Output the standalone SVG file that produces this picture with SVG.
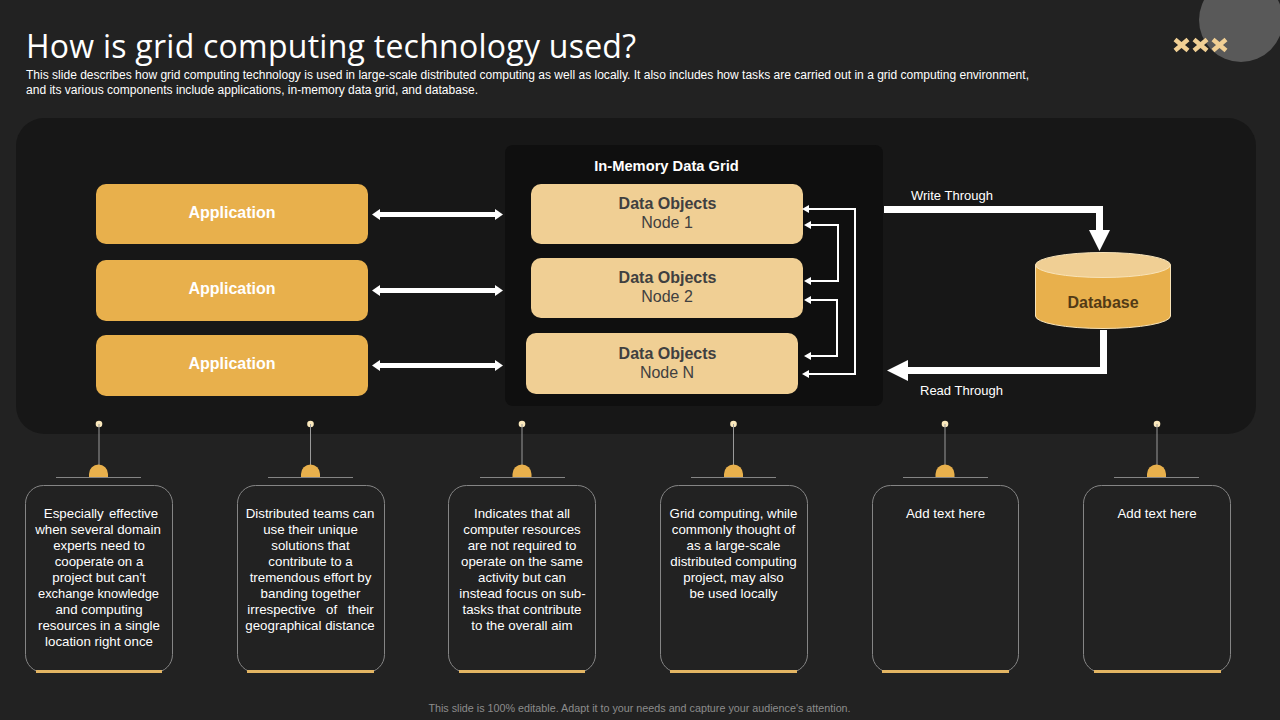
<svg xmlns="http://www.w3.org/2000/svg" width="1280" height="720" viewBox="0 0 1280 720">
<style>
text{font-family:"Liberation Sans",Arial,sans-serif}
.title{font-family:"Open Sans","Noto Sans",sans-serif;font-size:32px;fill:#fff}
.sub{font-size:12px;fill:#fff}
.app rect{fill:#e8b04c}
.app text{font-size:16px;font-weight:bold;fill:#fff;text-anchor:middle}
.obj rect{fill:#f0cf94}
.obj text{font-size:16px;fill:#404040;text-anchor:middle}
.obj .b{font-weight:bold}
.lbl{font-size:13px;fill:#fff}
.card rect.box{fill:none;stroke:#858585;stroke-width:1}
.card text{font-size:13.300px;fill:#fff;text-anchor:middle}
.card .stem{stroke:#9a9a9a;stroke-width:1}
.card .base{stroke:#858585;stroke-width:1}
.card .dome{fill:#e8b04c}
.card .dot{fill:#fbe9bd}
.card .bar{stroke:#e3b563;stroke-width:3}
.thick{fill:none;stroke:#fff;stroke-width:7}
.thin{fill:none;stroke:#fff;stroke-width:2}
.dbl{stroke:#fff;stroke-width:5;marker-start:url(#dh);marker-end:url(#dh)}
.hd{fill:#fff}
.x{stroke:#f0cf94;stroke-width:4.500;fill:none}
</style>
<defs>
<marker id="dh" markerUnits="userSpaceOnUse" markerWidth="8" markerHeight="11" refX="0" refY="5.500" orient="auto-start-reverse"><path d="M0 0L8 5.500L0 11z" fill="#fff"/></marker>
</defs>
<rect width="1280" height="720" fill="#222222"/>
<circle cx="1241" cy="20" r="42" fill="#595959"/>
<g id="deco">
<path class="x" d="M1175 39.500L1188 50.500M1188 39.500L1175 50.500M1194 39.500L1207 50.500M1207 39.500L1194 50.500M1213 39.500L1226 50.500M1226 39.500L1213 50.500"/>
</g>
<text class="title" x="26" y="58" textLength="610">How is grid computing technology used?</text>
<text class="sub" x="26" y="79" textLength="1003" lengthAdjust="spacingAndGlyphs">This slide describes how grid computing technology is used in large-scale distributed computing as well as locally. It also includes how tasks are carried out in a grid computing environment,</text>
<text class="sub" x="26" y="94" textLength="452" lengthAdjust="spacingAndGlyphs">and its various components include applications, in-memory data grid, and database.</text>
<rect x="16" y="118" width="1240" height="316" rx="28" fill="#171717"/>
<g id="grid-panel">
<rect x="505" y="145" width="378" height="261" rx="8" fill="#0f0f0f"/>
<text x="666.500" y="171" font-size="14.700" font-weight="bold" fill="#fff" text-anchor="middle">In-Memory Data Grid</text>
</g>
<g id="app1" class="app"><rect x="96" y="184" width="272" height="60" rx="10"/><text x="232" y="218">Application</text></g>
<g id="app2" class="app"><rect x="96" y="260" width="272" height="61" rx="10"/><text x="232" y="294">Application</text></g>
<g id="app3" class="app"><rect x="96" y="335" width="272" height="61" rx="10"/><text x="232" y="369">Application</text></g>
<g id="node1" class="obj"><rect x="531" y="184" width="272" height="60" rx="10"/><text class="b" x="667.500" y="209">Data Objects</text><text x="667" y="228">Node 1</text></g>
<g id="node2" class="obj"><rect x="531" y="258" width="272" height="60" rx="10"/><text class="b" x="667.500" y="283">Data Objects</text><text x="667" y="302">Node 2</text></g>
<g id="nodeN" class="obj"><rect x="526" y="333" width="272" height="61" rx="10"/><text class="b" x="667.500" y="359">Data Objects</text><text x="667" y="378">Node N</text></g>
<g id="database">
<path d="M1035.500 265V316A67.500 12.500 0 0 0 1170.500 316V265z" fill="#e8b04c" stroke="#f8e3b8" stroke-width="1"/>
<ellipse cx="1103" cy="265" rx="67.500" ry="12.500" fill="#f0cf94" stroke="#f8e3b8" stroke-width="1"/>
<text x="1103" y="308" font-size="16" font-weight="bold" fill="#523a16" text-anchor="middle">Database</text>
</g>
<g id="connectors">
<line class="dbl" x1="380" y1="214.500" x2="495" y2="214.500"/>
<line class="dbl" x1="380" y1="290.500" x2="495" y2="290.500"/>
<line class="dbl" x1="380" y1="365.500" x2="495" y2="365.500"/>
<path class="thin" d="M808 209H855V374H808"/>
<path class="thin" d="M808 225H838V281H808"/>
<path class="thin" d="M808 300H837V356H808"/>
<path class="hd" d="M802 209L809 205V213zM804 225L811 221V229zM804 281L811 277V285zM804 300L811 296V304zM804 356L811 352V360zM802 374L809 370V378z"/>
<path class="thick" d="M884 209.500H1099.500V232"/>
<path class="hd" d="M1089 230H1110L1099.500 251z"/>
<path class="thick" d="M1103.500 330V370.500H905"/>
<path class="hd" d="M887 370.500L908 360V381z"/>
</g>
<text class="lbl" x="911" y="200">Write Through</text>
<text class="lbl" x="920" y="395">Read Through</text>
<g id="card1" class="card"><circle class="dot" cx="99" cy="424" r="3.300"/><line class="stem" x1="99" y1="424" x2="99" y2="465"/><path class="dome" d="M89 477V474a9.500 9.500 0 0 1 19 0V477z"/><line class="base" x1="56" y1="477.500" x2="141" y2="477.500"/><rect class="box" x="25.500" y="485.500" width="147" height="187" rx="18"/><line class="bar" x1="36" y1="671.500" x2="162" y2="671.500"/>
<text x="99"><tspan x="101" y="518" word-spacing="1.500">Especially effective</tspan><tspan x="98" y="534">when several domain</tspan><tspan x="99" y="550">experts need to</tspan><tspan x="99" y="566">cooperate on a</tspan><tspan x="99" y="582">project but can't</tspan><tspan x="98.500" y="598" textLength="121" lengthAdjust="spacingAndGlyphs">exchange knowledge</tspan><tspan x="99" y="614">and computing</tspan><tspan x="99" y="630">resources in a single</tspan><tspan x="99" y="646">location right once</tspan></text></g>
<g id="card2" class="card"><circle class="dot" cx="310.500" cy="424" r="3.300"/><line class="stem" x1="310.500" y1="424" x2="310.500" y2="465"/><path class="dome" d="M301 477V474a9.500 9.500 0 0 1 19 0V477z"/><line class="base" x1="268" y1="477.500" x2="353" y2="477.500"/><rect class="box" x="237.500" y="485.500" width="147" height="187" rx="18"/><line class="bar" x1="247" y1="671.500" x2="374" y2="671.500"/>
<text x="311"><tspan x="310" y="518">Distributed teams can</tspan><tspan x="310.500" y="534">use their unique</tspan><tspan x="310.500" y="550">solutions that</tspan><tspan x="310.500" y="566">contribute to a</tspan><tspan x="310.500" y="582">tremendous effort by</tspan><tspan x="310.500" y="598">banding together</tspan><tspan x="310.500" y="614" word-spacing="7">irrespective of their</tspan><tspan x="310" y="630">geographical distance</tspan></text></g>
<g id="card3" class="card"><circle class="dot" cx="522" cy="424" r="3.300"/><line class="stem" x1="522" y1="424" x2="522" y2="465"/><path class="dome" d="M512.500 477V474a9.500 9.500 0 0 1 19 0V477z"/><line class="base" x1="480" y1="477.500" x2="565" y2="477.500"/><rect class="box" x="448.500" y="485.500" width="147" height="187" rx="18"/><line class="bar" x1="459" y1="671.500" x2="585" y2="671.500"/>
<text x="522"><tspan x="522" y="518">Indicates that all</tspan><tspan x="522" y="534">computer resources</tspan><tspan x="522" y="550">are not required to</tspan><tspan x="522" y="566">operate on the same</tspan><tspan x="522" y="582">activity but can</tspan><tspan x="522.500" y="598">instead focus on sub-</tspan><tspan x="522" y="614">tasks that contribute</tspan><tspan x="522" y="630">to the overall aim</tspan></text></g>
<g id="card4" class="card"><circle class="dot" cx="733.500" cy="424" r="3.300"/><line class="stem" x1="733.500" y1="424" x2="733.500" y2="465"/><path class="dome" d="M724 477V474a9.500 9.500 0 0 1 19 0V477z"/><line class="base" x1="691" y1="477.500" x2="776" y2="477.500"/><rect class="box" x="660.500" y="485.500" width="147" height="187" rx="18"/><line class="bar" x1="670" y1="671.500" x2="797" y2="671.500"/>
<text x="734"><tspan x="733.500" y="518">Grid computing, while</tspan><tspan x="733.500" y="534">commonly thought of</tspan><tspan x="733.500" y="550">as a large-scale</tspan><tspan x="733.500" y="566">distributed computing</tspan><tspan x="733.500" y="582">project, may also</tspan><tspan x="733.500" y="598">be used locally</tspan></text></g>
<g id="card5" class="card"><circle class="dot" cx="945" cy="424" r="3.300"/><line class="stem" x1="945" y1="424" x2="945" y2="465"/><path class="dome" d="M935.500 477V474a9.500 9.500 0 0 1 19 0V477z"/><line class="base" x1="903" y1="477.500" x2="988" y2="477.500"/><rect class="box" x="872.500" y="485.500" width="146" height="187" rx="18"/><line class="bar" x1="882" y1="671.500" x2="1009" y2="671.500"/>
<text x="945.500" y="518">Add text here</text></g>
<g id="card6" class="card"><circle class="dot" cx="1157" cy="424" r="3.300"/><line class="stem" x1="1157" y1="424" x2="1157" y2="465"/><path class="dome" d="M1147 477V474a9.500 9.500 0 0 1 19 0V477z"/><line class="base" x1="1114" y1="477.500" x2="1199" y2="477.500"/><rect class="box" x="1083.500" y="485.500" width="147" height="187" rx="18"/><line class="bar" x1="1094" y1="671.500" x2="1221" y2="671.500"/>
<text x="1157" y="518">Add text here</text></g>
<text x="639.500" y="712" font-size="10.750" fill="#8c8c8c" text-anchor="middle">This slide is 100% editable.  Adapt it to your needs and capture your audience's attention.</text>
</svg>
